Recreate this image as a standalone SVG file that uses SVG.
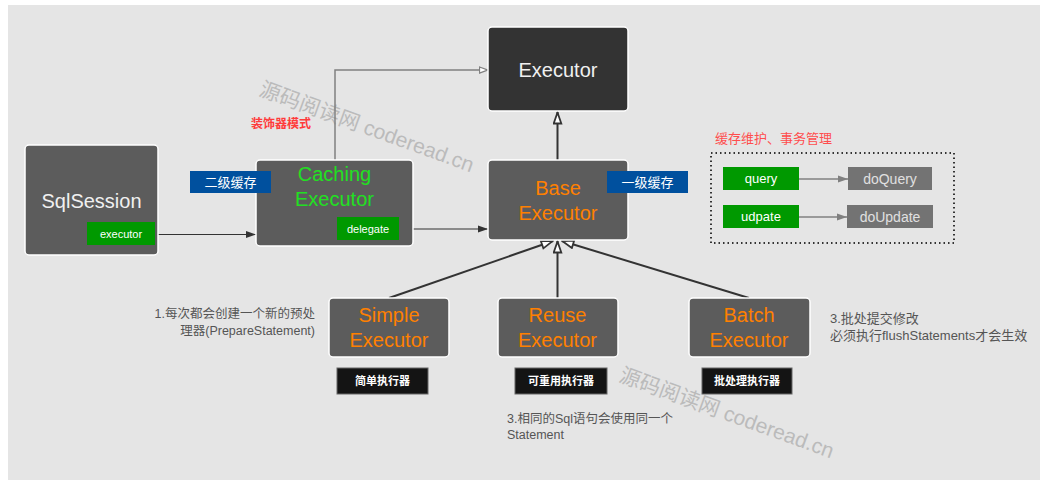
<svg xmlns="http://www.w3.org/2000/svg" width="1046" height="484" viewBox="0 0 1046 484">
<defs>
<style>
.t{font-family:"Liberation Sans","Noto Sans CJK SC",sans-serif}
.node{stroke:#ffffff;stroke-width:1.5}
.big{font-size:20px;text-anchor:middle}
.org{fill:#ff8000}
.tag{font-size:13px;fill:#ffffff;text-anchor:middle}
.note{font-size:12.5px;fill:#555555}
.blk{fill:#141414;stroke:#666666;stroke-width:1}
.btag{font-size:11px;fill:#ffffff;text-anchor:middle;font-weight:bold}
.inh{fill:none;stroke:#333333;stroke-width:2}
</style>
<marker id="tri" viewBox="0 0 14 10" refX="13" refY="5" markerWidth="14" markerHeight="10" markerUnits="userSpaceOnUse" orient="auto"><path d="M1.5,1.2 L12.5,5 L1.5,8.8 Z" fill="#ffffff" stroke="#333333" stroke-width="1.8"/></marker>
<marker id="tri2" viewBox="0 0 10 8" refX="9.5" refY="4" markerWidth="10" markerHeight="8" markerUnits="userSpaceOnUse" orient="auto"><path d="M1,1 L9,4 L1,7 Z" fill="#ffffff" stroke="#808080" stroke-width="1.3"/></marker>
<marker id="arr" viewBox="0 0 10 8" refX="10" refY="4" markerWidth="10" markerHeight="8" markerUnits="userSpaceOnUse" orient="auto"><path d="M0,0.5 L10,4 L0,7.5 Z" fill="#333333"/></marker>
<marker id="garr" viewBox="0 0 10 8" refX="10" refY="4" markerWidth="10" markerHeight="8" markerUnits="userSpaceOnUse" orient="auto"><path d="M0,0.5 L10,4 L0,7.5 Z" fill="#808080"/></marker>
</defs>
<rect x="0" y="0" width="1046" height="484" fill="#ffffff"/>
<rect x="8" y="5" width="1032" height="475" fill="#e5e5e5"/>

<g id="watermarks" class="t" font-size="21" fill="#bbbbbb">
<text transform="translate(258,95) rotate(20)">源码阅读网 coderead.cn</text>
<text transform="translate(618,381) rotate(20)">源码阅读网 coderead.cn</text>
</g>

<g id="connectors">
<polyline points="335,160 335,70 488,70" fill="none" stroke="#808080" stroke-width="1.5" marker-end="url(#tri2)"/>
<line x1="155" y1="234.5" x2="256" y2="234.5" stroke="#333333" stroke-width="1.2" marker-end="url(#arr)"/>
<line x1="399" y1="229" x2="488" y2="229" stroke="#333333" stroke-width="1.2" marker-end="url(#arr)"/>
<line x1="557.5" y1="160" x2="557.5" y2="112" class="inh" marker-end="url(#tri)"/>
<line x1="389" y1="298" x2="553" y2="241" class="inh" marker-end="url(#tri)"/>
<line x1="557.5" y1="298" x2="557.5" y2="241" class="inh" marker-end="url(#tri)"/>
<line x1="749" y1="298" x2="562" y2="241" class="inh" marker-end="url(#tri)"/>
<line x1="799" y1="179" x2="848" y2="179" stroke="#808080" stroke-width="1.3" marker-end="url(#garr)"/>
<line x1="799" y1="217" x2="847" y2="217" stroke="#808080" stroke-width="1.3" marker-end="url(#garr)"/>
</g>

<g id="executor">
<rect x="488" y="27" width="140" height="84" rx="4" fill="#333333" class="node"/>
<text x="558" y="77" class="t big" fill="#f0f0f0">Executor</text>
</g>

<g id="sqlsession">
<rect x="25" y="145" width="133" height="110" rx="4" fill="#5c5c5c" class="node"/>
<text x="91.5" y="208" class="t big" fill="#f0f0f0">SqlSession</text>
<rect x="87" y="222" width="68" height="23" fill="#009900"/>
<text x="121" y="237.5" class="t" font-size="11" fill="#ffffff" text-anchor="middle">executor</text>
</g>

<g id="caching-executor">
<rect x="256" y="160" width="157" height="86" rx="4" fill="#5c5c5c" class="node"/>
<text x="334.5" y="181" class="t big" fill="#22e022">Caching</text>
<text x="334.5" y="206" class="t big" fill="#22e022">Executor</text>
<rect x="337" y="217" width="62" height="23" fill="#009900"/>
<text x="368" y="232.5" class="t" font-size="11" fill="#ffffff" text-anchor="middle">delegate</text>
<rect x="190" y="171" width="81" height="22" fill="#00509e"/>
<text x="230.5" y="186.5" class="t tag">二级缓存</text>
<text x="251" y="128" class="t" font-size="12" font-weight="bold" fill="#ff3b3b">装饰器模式</text>
</g>

<g id="base-executor">
<rect x="488" y="160" width="140" height="80" rx="4" fill="#5c5c5c" class="node"/>
<text x="558" y="195" class="t big org">Base</text>
<text x="558" y="220" class="t big org">Executor</text>
<rect x="607" y="171" width="81" height="22" fill="#00509e"/>
<text x="647.5" y="186.5" class="t tag">一级缓存</text>
</g>

<g id="cache-box">
<text x="715" y="143" class="t" font-size="13" fill="#ff4d4d">缓存维护、事务管理</text>
<rect x="711" y="153" width="243" height="90" fill="none" stroke="#333333" stroke-width="2" stroke-dasharray="1.5 3"/>
<rect x="723" y="167" width="76" height="23" fill="#009900"/>
<text x="761" y="183" class="t tag">query</text>
<rect x="848" y="167" width="84" height="23" fill="#737373"/>
<text x="890" y="184" class="t" font-size="14" fill="#e0e0e0" text-anchor="middle">doQuery</text>
<rect x="723" y="205" width="76" height="23" fill="#009900"/>
<text x="761" y="221" class="t tag">udpate</text>
<rect x="847" y="205" width="86" height="23" fill="#737373"/>
<text x="890" y="222" class="t" font-size="14" fill="#e0e0e0" text-anchor="middle">doUpdate</text>
</g>

<g id="simple-executor">
<rect x="329" y="298" width="120" height="59" rx="4" fill="#5c5c5c" class="node"/>
<text x="389" y="322" class="t big org">Simple</text>
<text x="389" y="347" class="t big org">Executor</text>
<rect x="337" y="368" width="91" height="26" class="blk"/>
<text x="382.5" y="385" class="t btag">简单执行器</text>
<text x="315" y="318" class="t note" text-anchor="end">1.每次都会创建一个新的预处</text>
<text x="315" y="335" class="t note" text-anchor="end">理器(PrepareStatement)</text>
</g>

<g id="reuse-executor">
<rect x="498" y="298" width="120" height="59" rx="4" fill="#5c5c5c" class="node"/>
<text x="557.5" y="322" class="t big org">Reuse</text>
<text x="557.5" y="347" class="t big org">Executor</text>
<rect x="515" y="368" width="92" height="26" class="blk"/>
<text x="561" y="385" class="t btag">可重用执行器</text>
<text x="507" y="423" class="t note">3.相同的Sql语句会使用同一个</text>
<text x="507" y="439" class="t note">Statement</text>
</g>

<g id="batch-executor">
<rect x="689" y="298" width="121" height="59" rx="4" fill="#5c5c5c" class="node"/>
<text x="749" y="322" class="t big org">Batch</text>
<text x="749" y="347" class="t big org">Executor</text>
<rect x="702" y="368" width="90" height="26" class="blk"/>
<text x="747" y="385" class="t btag">批处理执行器</text>
<text x="830" y="323" class="t" font-size="13" fill="#555555">3.批处提交修改</text>
<text x="830" y="340" class="t" font-size="13" fill="#555555">必须执行flushStatements才会生效</text>
</g>
</svg>
